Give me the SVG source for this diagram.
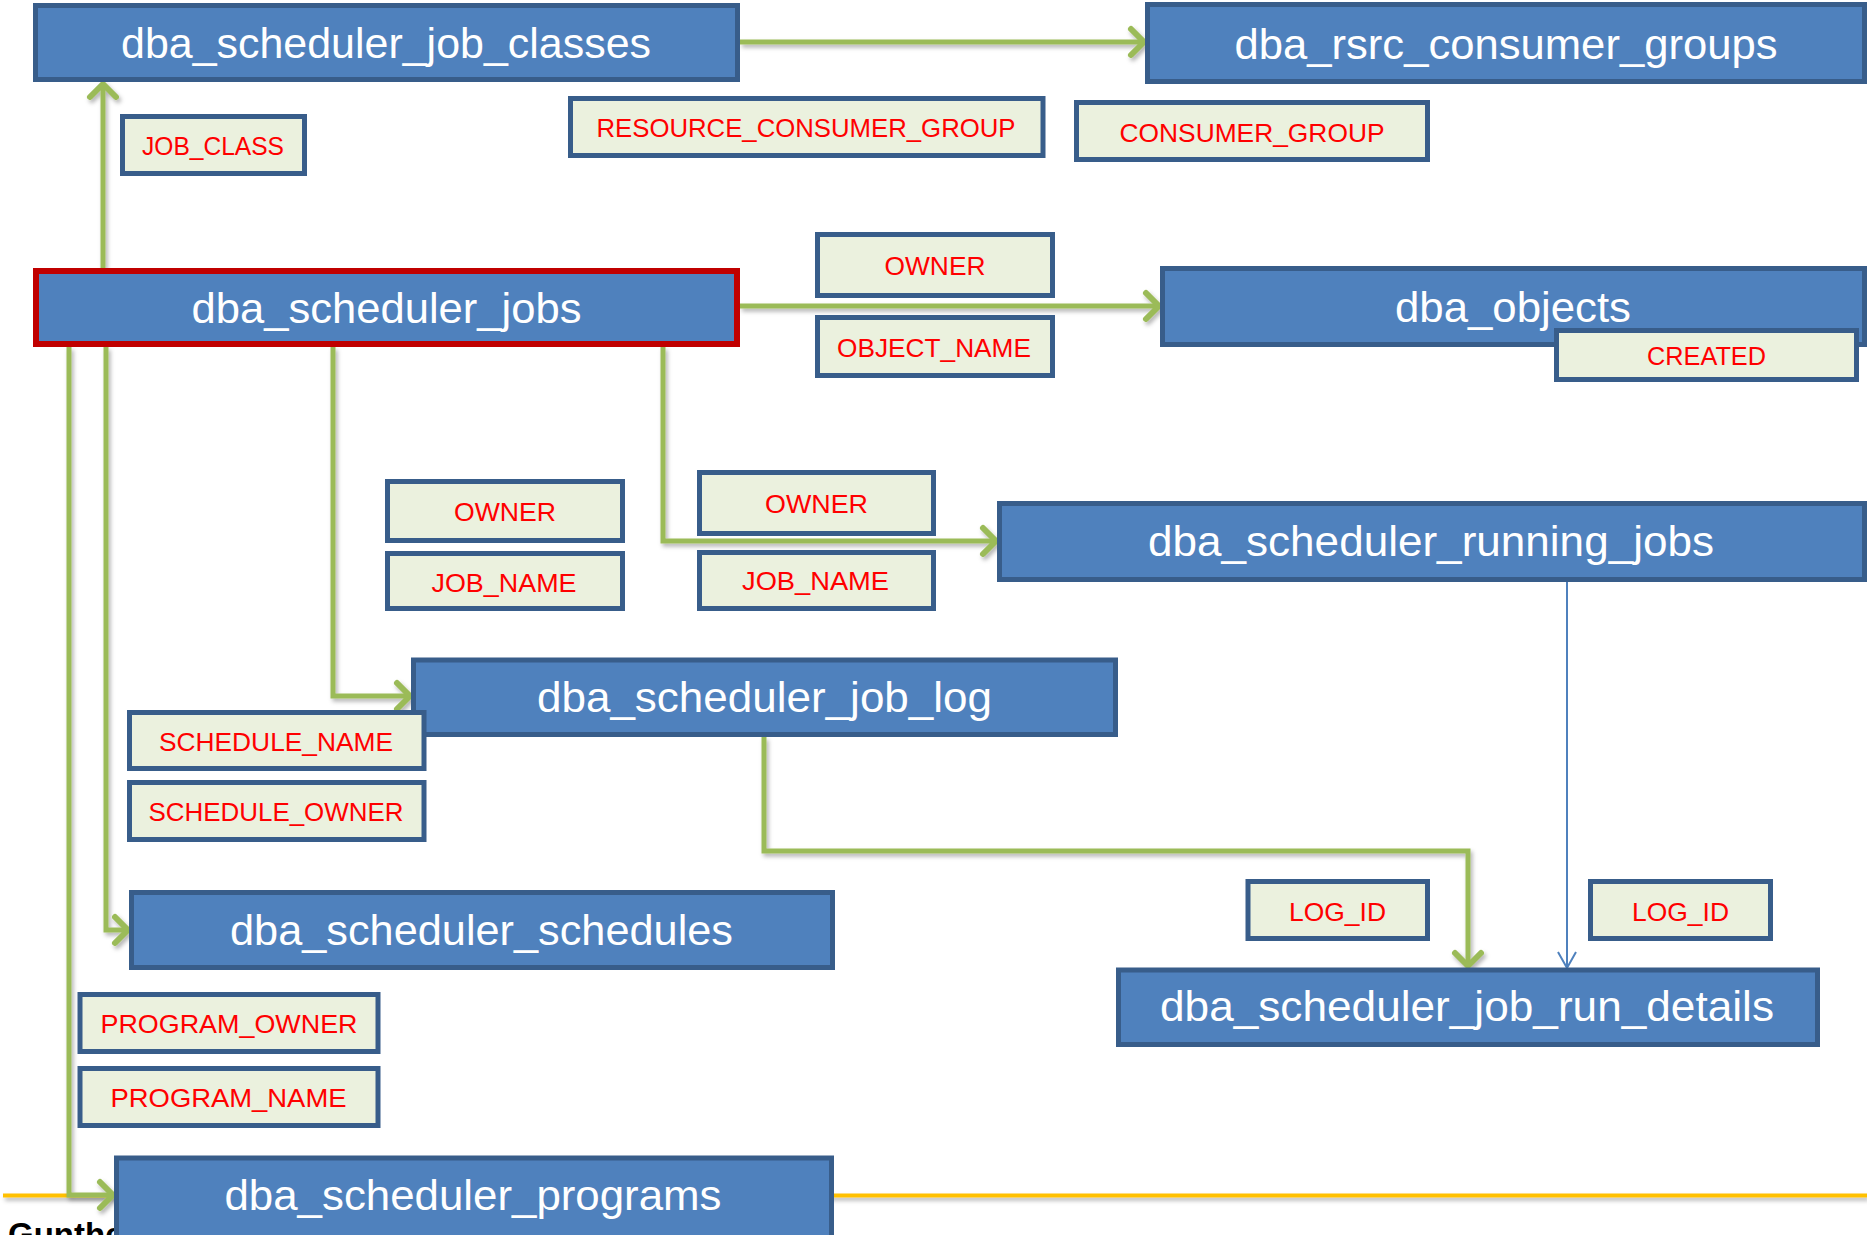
<svg xmlns="http://www.w3.org/2000/svg" width="1867" height="1235" viewBox="0 0 1867 1235">
<defs>
<style>
.tbl{fill:#4F81BD;stroke:#385D8A;stroke-width:5}
.main{fill:#4F81BD;stroke:#C00000;stroke-width:6}
.key{fill:#EBF1DE;stroke:#385D8A;stroke-width:5}
.tt{font-family:"Liberation Sans",Arial,sans-serif;font-size:42px;fill:#FFFFFF;text-anchor:middle}
.kt{font-family:"Liberation Sans",Arial,sans-serif;font-size:26.5px;fill:#FF0000;text-anchor:middle}
.g{fill:none;stroke:#9BBB59;stroke-width:5;stroke-linejoin:miter}
.b{fill:none;stroke:#4F81BD;stroke-width:2}
</style>
<filter id="sh" filterUnits="userSpaceOnUse" x="0" y="0" width="1867" height="1235">
<feDropShadow dx="2" dy="3" stdDeviation="2" flood-color="#000" flood-opacity="0.3"/>
</filter>
<marker id="ga" markerUnits="userSpaceOnUse" markerWidth="40" markerHeight="40" viewBox="-20 -20 40 40" refX="0" refY="0" orient="auto">
<path d="M-14,-13 L-1,0 L-14,13" fill="none" stroke="#9BBB59" stroke-width="6" stroke-linecap="round" stroke-linejoin="round"/>
</marker>
<marker id="ba" markerUnits="userSpaceOnUse" markerWidth="40" markerHeight="40" viewBox="-20 -20 40 40" refX="0" refY="0" orient="auto">
<path d="M-16,-9 L0,0 L-16,9" fill="none" stroke="#4F81BD" stroke-width="2"/>
</marker>
</defs>
<rect width="1867" height="1235" fill="#FFFFFF"/>

<g id="footer">
<line x1="3" y1="1195.5" x2="1867" y2="1195.5" stroke="#FFC000" stroke-width="4" filter="url(#sh)"/>
<text x="8" y="1246" font-family="Liberation Sans,Arial,sans-serif" font-size="33" font-weight="bold" fill="#000000">Gunthe</text>
</g>

<g id="connectors">
<path class="g" filter="url(#sh)" marker-end="url(#ga)" d="M103,268 L103,83"/>
<path class="g" filter="url(#sh)" marker-end="url(#ga)" d="M740,42 L1145,42"/>
<path class="g" filter="url(#sh)" marker-end="url(#ga)" d="M740,306 L1160,306"/>
<path class="g" filter="url(#sh)" marker-end="url(#ga)" d="M663,347 L663,541 L997,541"/>
<path class="g" filter="url(#sh)" marker-end="url(#ga)" d="M333,347 L333,696 L411,696"/>
<path class="g" filter="url(#sh)" marker-end="url(#ga)" d="M106,347 L106,930 L129,930"/>
<path class="g" filter="url(#sh)" marker-end="url(#ga)" d="M69,347 L69,1195 L114,1195"/>
<path class="g" filter="url(#sh)" marker-end="url(#ga)" d="M764,737 L764,851 L1468,851 L1468,967"/>
<path class="b" marker-end="url(#ba)" d="M1567,582 L1567,968"/>
</g>

<g id="dba_scheduler_job_classes">
<rect class="tbl" x="35.5" y="5.5" width="702" height="74"/>
<text class="tt" x="386" y="58" textLength="530" lengthAdjust="spacingAndGlyphs">dba_scheduler_job_classes</text>
</g>
<g id="dba_rsrc_consumer_groups">
<rect class="tbl" x="1147.5" y="4.5" width="717" height="77"/>
<text class="tt" x="1506" y="59" textLength="543" lengthAdjust="spacingAndGlyphs">dba_rsrc_consumer_groups</text>
</g>
<g id="dba_scheduler_jobs">
<rect class="main" x="36" y="271" width="701" height="73"/>
<text class="tt" x="386.5" y="323" textLength="390" lengthAdjust="spacingAndGlyphs">dba_scheduler_jobs</text>
</g>
<g id="dba_objects">
<rect class="tbl" x="1162.5" y="268.5" width="702" height="76"/>
<text class="tt" x="1513" y="322" textLength="236" lengthAdjust="spacingAndGlyphs">dba_objects</text>
</g>
<g id="dba_scheduler_running_jobs">
<rect class="tbl" x="999.5" y="503.5" width="865" height="76"/>
<text class="tt" x="1431" y="556" textLength="566" lengthAdjust="spacingAndGlyphs">dba_scheduler_running_jobs</text>
</g>
<g id="dba_scheduler_job_log">
<rect class="tbl" x="413.5" y="660" width="702" height="74.5"/>
<text class="tt" x="764.5" y="712" textLength="455" lengthAdjust="spacingAndGlyphs">dba_scheduler_job_log</text>
</g>
<g id="dba_scheduler_job_run_details">
<rect class="tbl" x="1118.5" y="970" width="699" height="74.5"/>
<text class="tt" x="1467" y="1021" textLength="614" lengthAdjust="spacingAndGlyphs">dba_scheduler_job_run_details</text>
</g>
<g id="dba_scheduler_schedules">
<rect class="tbl" x="131.5" y="892.5" width="701" height="75"/>
<text class="tt" x="481.5" y="945" textLength="503" lengthAdjust="spacingAndGlyphs">dba_scheduler_schedules</text>
</g>
<g id="dba_scheduler_programs">
<rect class="tbl" x="116.5" y="1158" width="715" height="90"/>
<text class="tt" x="473" y="1210" textLength="497" lengthAdjust="spacingAndGlyphs">dba_scheduler_programs</text>
</g>

<g id="key_job_class">
<rect class="key" x="122.5" y="116.5" width="182" height="57"/>
<text class="kt" x="213" y="155" textLength="142" lengthAdjust="spacingAndGlyphs">JOB_CLASS</text>
</g>
<g id="key_resource_consumer_group">
<rect class="key" x="570.5" y="98.5" width="472.5" height="57"/>
<text class="kt" x="806" y="137" textLength="419" lengthAdjust="spacingAndGlyphs">RESOURCE_CONSUMER_GROUP</text>
</g>
<g id="key_consumer_group">
<rect class="key" x="1076.5" y="102.5" width="351" height="57"/>
<text class="kt" x="1252" y="142" textLength="265" lengthAdjust="spacingAndGlyphs">CONSUMER_GROUP</text>
</g>
<g id="key_owner_objects">
<rect class="key" x="817.5" y="234.5" width="235" height="61"/>
<text class="kt" x="935" y="275" textLength="101" lengthAdjust="spacingAndGlyphs">OWNER</text>
</g>
<g id="key_object_name">
<rect class="key" x="817.5" y="317.5" width="235" height="58"/>
<text class="kt" x="934" y="357" textLength="194" lengthAdjust="spacingAndGlyphs">OBJECT_NAME</text>
</g>
<g id="key_created">
<rect class="key" x="1556.5" y="330.5" width="300" height="49"/>
<text class="kt" x="1706.5" y="365" textLength="119" lengthAdjust="spacingAndGlyphs">CREATED</text>
</g>
<g id="key_owner_log">
<rect class="key" x="387.5" y="481.5" width="235" height="59"/>
<text class="kt" x="505" y="521" textLength="102" lengthAdjust="spacingAndGlyphs">OWNER</text>
</g>
<g id="key_job_name_log">
<rect class="key" x="387.5" y="553.5" width="235" height="55"/>
<text class="kt" x="504" y="592" textLength="145" lengthAdjust="spacingAndGlyphs">JOB_NAME</text>
</g>
<g id="key_owner_running">
<rect class="key" x="699.5" y="472.5" width="234" height="61"/>
<text class="kt" x="816.5" y="513" textLength="103" lengthAdjust="spacingAndGlyphs">OWNER</text>
</g>
<g id="key_job_name_running">
<rect class="key" x="699.5" y="552.5" width="234" height="56"/>
<text class="kt" x="815.5" y="590" textLength="147" lengthAdjust="spacingAndGlyphs">JOB_NAME</text>
</g>
<g id="key_schedule_name">
<rect class="key" x="129.5" y="712.5" width="294.5" height="56"/>
<text class="kt" x="276" y="751" textLength="234" lengthAdjust="spacingAndGlyphs">SCHEDULE_NAME</text>
</g>
<g id="key_schedule_owner">
<rect class="key" x="129.5" y="782.5" width="294.5" height="57"/>
<text class="kt" x="276" y="821" textLength="255" lengthAdjust="spacingAndGlyphs">SCHEDULE_OWNER</text>
</g>
<g id="key_log_id_1">
<rect class="key" x="1248" y="881.5" width="179.5" height="57"/>
<text class="kt" x="1337.5" y="921" textLength="97" lengthAdjust="spacingAndGlyphs">LOG_ID</text>
</g>
<g id="key_log_id_2">
<rect class="key" x="1590.5" y="881.5" width="180" height="57"/>
<text class="kt" x="1680.5" y="921" textLength="97" lengthAdjust="spacingAndGlyphs">LOG_ID</text>
</g>
<g id="key_program_owner">
<rect class="key" x="80" y="994.5" width="298" height="57"/>
<text class="kt" x="229" y="1033" textLength="257" lengthAdjust="spacingAndGlyphs">PROGRAM_OWNER</text>
</g>
<g id="key_program_name">
<rect class="key" x="80" y="1068.5" width="298" height="57"/>
<text class="kt" x="228.5" y="1107" textLength="236" lengthAdjust="spacingAndGlyphs">PROGRAM_NAME</text>
</g>
</svg>
